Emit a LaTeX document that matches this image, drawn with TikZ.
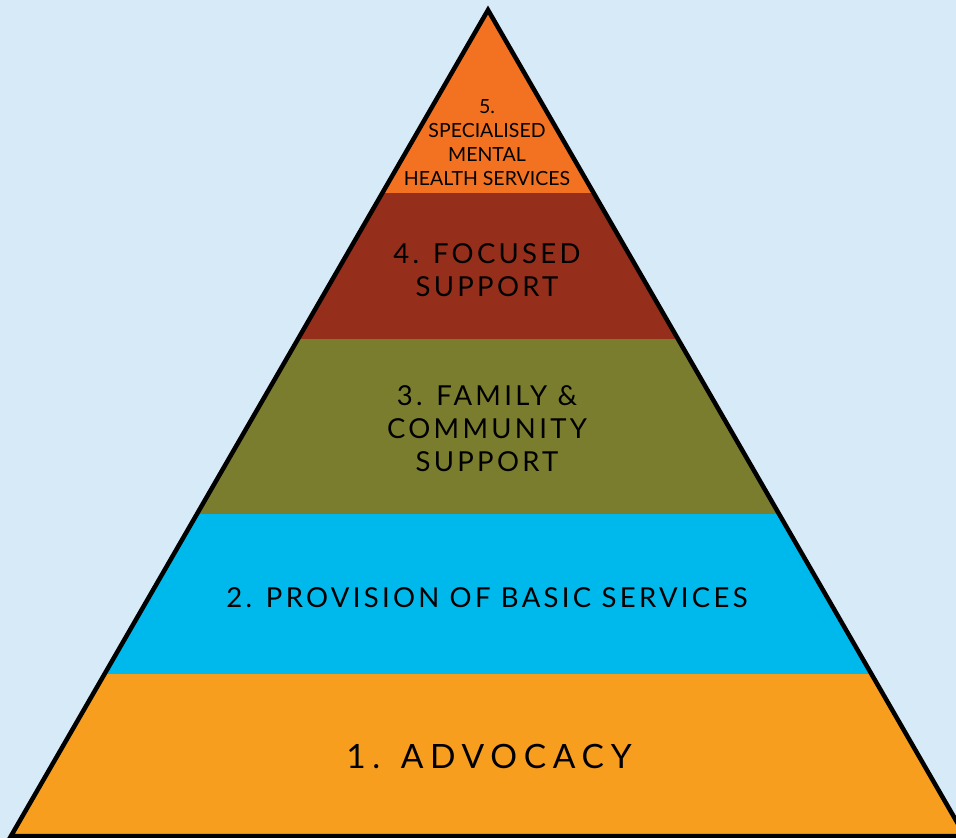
\documentclass[tikz,border=0pt]{standalone}
\usepackage{fontspec}
\setmainfont{Lato}
\usepackage{xcolor}
\usetikzlibrary{positioning, calc}

\definecolor{skyback}{RGB}{215,234,248}
\definecolor{tierfive}{RGB}{243,114,34}
\definecolor{tierfour}{RGB}{150,46,28}
\definecolor{tierthree}{RGB}{123,125,46}
\definecolor{tiertwo}{RGB}{0,185,236}
\definecolor{tierone}{RGB}{248,158,31}

\begin{document}
\begin{tikzpicture}[
   x = 1pt, y = -1pt,
   tier/.style = {align=center, text=black, inner sep=0pt,
     font=\fontsize{27.5}{33}\selectfont\addfontfeature{LetterSpace=12}},
   toptier/.style = {align=center, text=black, inner sep=0pt,
     font=\fontsize{19.5}{24}\selectfont},
   bigtier/.style = {align=center, text=black, inner sep=0pt,
     font=\fontsize{33.5}{36}\selectfont\addfontfeature{LetterSpace=20}}
   ]
  % Background
  \fill[skyback] (0,0) rectangle (956,838);
  \useasboundingbox (0,0) rectangle (956,838);

  % Pyramid corners
  \coordinate (apex) at (488,10);
  \coordinate (baseL) at (11,836);
  \coordinate (baseR) at (965,836);

  % Tiers
  \begin{scope}
    \clip (apex) -- (baseL) -- (baseR) -- cycle;
    \fill[tierfive]  (0,0)   rectangle (980,193);
    \fill[tierfour]  (0,193) rectangle (980,339);
    \fill[tierthree] (0,339) rectangle (980,514);
    \fill[tiertwo]   (0,514) rectangle (980,674);
    \fill[tierone]   (0,674) rectangle (980,836);
  \end{scope}
  \draw[line width=4.5pt, line join=miter] (apex) -- (baseL) -- (baseR) -- cycle;

  % Labels
  \node[toptier] (specialised) at (487,143)
   {5.\\ SPECIALISED\\ MENTAL\\ HEALTH SERVICES};
  \node[tier] (focused) at (487,270)
   {4. FOCUSED\\ SUPPORT};
  \node[tier] (community) at (487,429)
   {3. FAMILY \&\\ COMMUNITY\\ SUPPORT};
  \node[tier] (basic) at (487,598)
   {2. PROVISION OF BASIC SERVICES};
  \node[bigtier] (advocacy) at (489,756)
   {1. ADVOCACY};
\end{tikzpicture}
\end{document}
